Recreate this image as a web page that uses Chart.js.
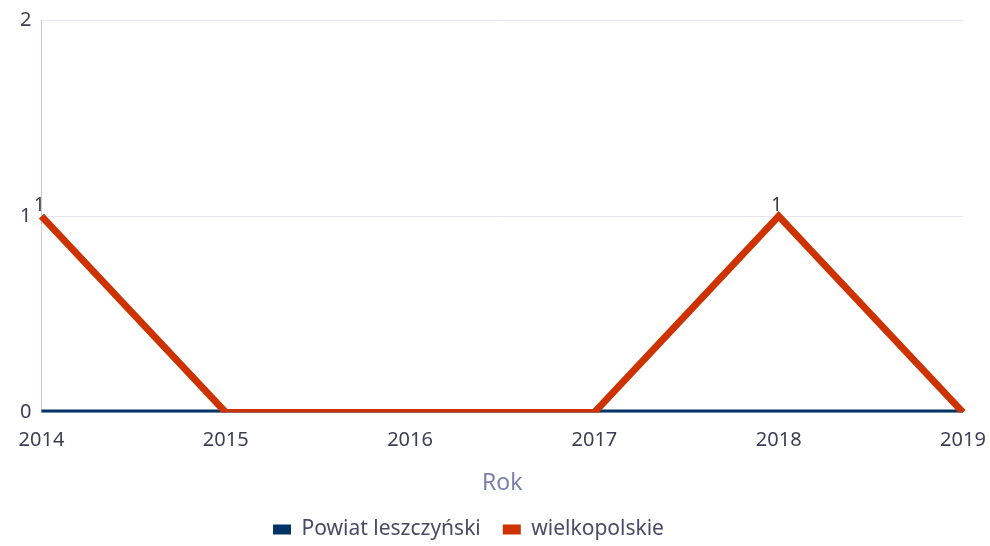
<!DOCTYPE html>
<html>
<head>
<meta charset="utf-8">
<script src="https://cdn.jsdelivr.net/npm/chart.js@4"></script>
<style>
    body { margin: 0; background: #ffffff; }
    #wrap { width: 990px; height: 546px; position: relative; }
</style>
</head>
<body>
<div id="wrap"><canvas id="lineChart"></canvas></div>
<script>
// Chart data
const years = ['2014', '2015', '2016', '2017', '2018', '2019'];
const powiatValues = [0, 0, 0, 0, 0, 0];
const wielkopolskieValues = [1, 0, 0, 0, 1, 0];
const yTicks = [0, 1, 2];

const FONT = '"Noto Sans", sans-serif';

// Draw value labels above the non-zero points
const valueLabels = {
    id: 'valueLabels',
    afterDatasetsDraw(chart) {
        const ctx = chart.ctx;
        ctx.save();
        ctx.font = '19px ' + FONT;
        ctx.fillStyle = '#3a3a3a';
        ctx.textAlign = 'center';
        ctx.textBaseline = 'bottom';
        chart.data.datasets.forEach((ds, i) => {
            const meta = chart.getDatasetMeta(i);
            meta.data.forEach((pt, j) => {
                if (ds.data[j] > 0) {
                    ctx.fillText(String(ds.data[j]), pt.x - 2, pt.y - 1);
                }
            });
        });
        ctx.restore();
    }
};

// Legend in the original sits a bit left of centre
const legendShift = {
    id: 'legendShift',
    afterLayout(chart) {
        const lg = chart.legend;
        if (lg) {
            lg.left -= 18;
            lg.right -= 18;
        }
    }
};

const ctx = document.getElementById('lineChart').getContext('2d');
new Chart(ctx, {
    type: 'line',
    data: {
        labels: years,
        datasets: [
            {
                label: 'Powiat leszczyński',
                data: powiatValues,
                borderColor: '#003366',
                backgroundColor: '#003366',
                borderWidth: 6,
                pointRadius: 0,
                tension: 0,
                order: 1
            },
            {
                label: 'wielkopolskie',
                data: wielkopolskieValues,
                borderColor: '#cc3300',
                backgroundColor: '#cc3300',
                borderWidth: 7,
                pointRadius: 0,
                tension: 0,
                order: 0
            }
        ]
    },
    options: {
        responsive: true,
        maintainAspectRatio: false,
        animation: false,
        layout: { padding: { top: 20, right: 27, left: 10, bottom: -4 } },
        scales: {
            x: {
                offset: false,
                grid: { display: false, drawTicks: false },
                border: { display: false },
                afterFit(scale) {
                    scale.paddingLeft = 0;
                    scale.paddingRight = 0;
                },
                ticks: {
                    color: '#3d3d56',
                    font: { family: FONT, size: 20 },
                    padding: 16,
                    maxRotation: 0
                },
                title: {
                    display: true,
                    text: 'Rok',
                    color: '#7b80aa',
                    font: { family: FONT, size: 23 },
                    padding: { top: 1, bottom: 0 }
                }
            },
            y: {
                min: 0,
                max: 2,
                afterBuildTicks(axis) {
                    axis.ticks = yTicks.map(v => ({ value: v }));
                },
                afterFit(scale) {
                    scale.paddingTop = 0;
                },
                grid: { color: '#e6e6ee', drawTicks: false },
                border: { color: '#c8c8dc', width: 1 },
                ticks: {
                    color: '#3d3d56',
                    font: { family: FONT, size: 20 },
                    padding: 10
                }
            }
        },
        plugins: {
            legend: {
                position: 'bottom',
                labels: {
                    boxWidth: 18,
                    boxHeight: 10,
                    color: '#4a4a66',
                    font: { family: FONT, size: 21 },
                    padding: 22,
                    sort: (a, b) => a.datasetIndex - b.datasetIndex,
                    generateLabels(chart) {
                        const items = Chart.defaults.plugins.legend.labels.generateLabels(chart);
                        items.forEach(it => { it.lineWidth = 0; });
                        return items;
                    }
                }
            },
            tooltip: { enabled: false }
        }
    },
    plugins: [valueLabels, legendShift]
});
</script>
</body>
</html>
